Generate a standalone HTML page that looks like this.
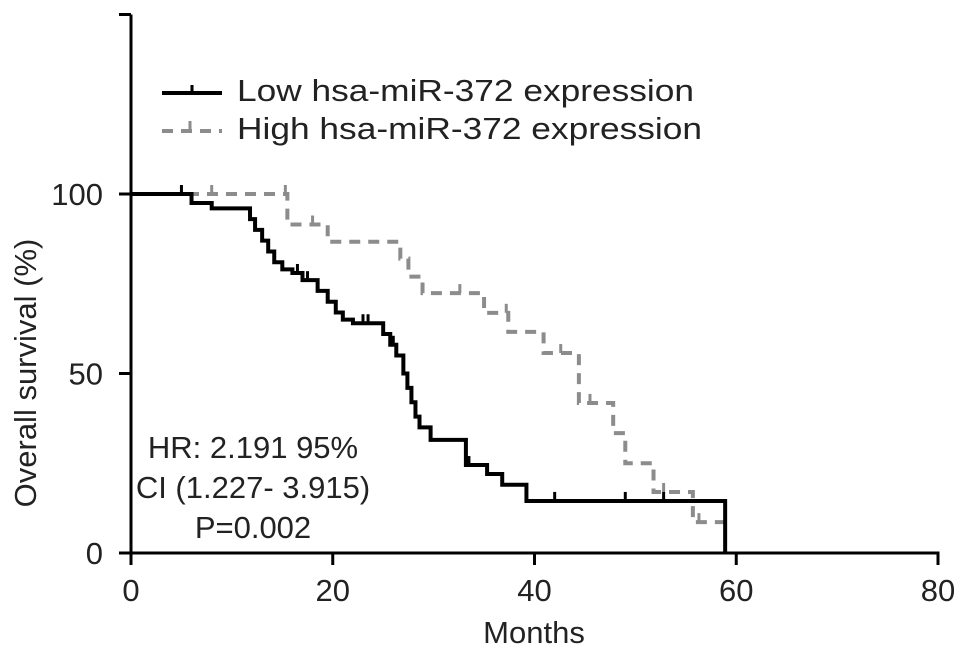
<!DOCTYPE html>
<html><head><meta charset="utf-8"><style>
body{margin:0;background:#fff}
svg{display:block;font-family:"Liberation Sans",Arial,sans-serif}
</style></head><body>
<svg id="chart" width="969" height="657" viewBox="0 0 969 657" xmlns="http://www.w3.org/2000/svg">
<g id="axes"></g>
<g id="series"></g>
<g id="legend" fill="#222">
  <line x1="162" y1="93" x2="222" y2="93" stroke="#000" stroke-width="4"/>
  <line x1="192" y1="85" x2="192" y2="93" stroke="#000" stroke-width="3"/>
  <text x="237" y="101" font-size="31" textLength="457" lengthAdjust="spacingAndGlyphs">Low hsa-miR-372 expression</text>
  <line x1="162" y1="131" x2="222" y2="131" stroke="#8c8c8c" stroke-width="4" stroke-dasharray="11,8"/>
  <line x1="190" y1="121" x2="190" y2="131" stroke="#8c8c8c" stroke-width="3"/>
  <text x="237" y="139" font-size="31" textLength="465" lengthAdjust="spacingAndGlyphs">High hsa-miR-372 expression</text>
</g>
<g font-size="31" text-anchor="middle" fill="#222">
  <text x="253" y="458">HR: 2.191 95%</text>
  <text x="253" y="498">CI (1.227- 3.915)</text>
  <text x="253" y="538">P=0.002</text>
</g>
<text x="534" y="643" font-size="31" text-anchor="middle" fill="#222">Months</text>
<text transform="translate(36,373) rotate(-90)" font-size="31" text-anchor="middle" fill="#222">Overall survival (%)</text>
</svg>
<script>
const xTicks=[0,20,40,60,80];
const yTicks=[0,50,100,150];
const yLabels=["0","50","100",""];
const lowTimes=[0,6,8,11.8,12.3,13,13.6,14.2,15,16,17,18.5,19.5,20.3,21,22,25,25.7,26.3,27,27.4,27.8,28.2,28.6,29.7,33.2,35.3,36.8,39.2,58.9];
const lowSurv=[100,97.5,96,93,90,87,84,81,79,78,76,73,70,67,65,64,61,58,55,50,46,42,38,35,31.5,24.5,22,19,14.5,0];
const lowCensor=[5,12.3,16.5,17.5,18.5,23,23.5,26,33.5,42,49,52.8];
const highTimes=[0,15.5,19.5,26.7,27.5,28.9,35,37.4,40.9,44.4,47.8,49,51.8,55.7,58.9];
const highSurv=[100,91.5,86.7,82,77,72.4,66.9,61.6,55.7,41.8,33.4,25,17,8.6,8.6];
const highCensor=[8,15.3,18,32.6,37.2,42.6,45.5,52.8,56.3];
const NS="http://www.w3.org/2000/svg";
const X=m=>131+m*(938-131)/80;
const Y=p=>553-p*(553-194)/100;
function mk(tag,attrs,parent){const e=document.createElementNS(NS,tag);for(const k in attrs)e.setAttribute(k,attrs[k]);parent.appendChild(e);return e;}
const axes=document.getElementById('axes');
const ser=document.getElementById('series');
let a=mk('line',{x1:X(0),y1:Y(150),x2:X(0),y2:Y(0)+1.5,stroke:'#000','stroke-width':3},axes);


a=mk('line',{x1:X(0)-1.5,y1:Y(0),x2:X(80)+1.5,y2:Y(0),stroke:'#000','stroke-width':3},axes);


xTicks.forEach(t=>{
  let l=mk('line',{x1:X(t),y1:Y(0),x2:X(t),y2:Y(0)+12,stroke:'#000','stroke-width':3},axes);
  
  
  let tx=mk('text',{x:X(t),y:601,'font-size':31,'text-anchor':'middle',fill:'#222'},axes);tx.textContent=t;
  
  
});
yTicks.forEach((t,i)=>{
  let l=mk('line',{x1:X(0)-12,y1:Y(t),x2:X(0),y2:Y(t),stroke:'#000','stroke-width':3},axes);
  
  
  let tx=mk('text',{x:103,y:Y(t)+11,'font-size':31,'text-anchor':'end',fill:'#222'},axes);tx.textContent=yLabels[i];
  
  
});
function stepPath(ts,ss){let d='M'+X(ts[0])+','+Y(ss[0]);for(let i=1;i<ts.length;i++){d+=' H'+X(ts[i])+' V'+Y(ss[i]);}return d;}
function survAt(ts,ss,t){let s=ss[0];for(let i=0;i<ts.length;i++){if(ts[i]<=t)s=ss[i];}return s;}
let p=mk('path',{d:stepPath(highTimes,highSurv),fill:'none',stroke:'#8c8c8c','stroke-width':4,'stroke-dasharray':'11,8'},ser);


highCensor.forEach(t=>{let c=mk('line',{x1:X(t),y1:Y(survAt(highTimes,highSurv,t)),x2:X(t),y2:Y(survAt(highTimes,highSurv,t))-9,stroke:'#8c8c8c','stroke-width':3},ser);
  
  });
p=mk('path',{d:stepPath(lowTimes,lowSurv),fill:'none',stroke:'#000','stroke-width':4},ser);


lowCensor.forEach(t=>{let c=mk('line',{x1:X(t),y1:Y(survAt(lowTimes,lowSurv,t)),x2:X(t),y2:Y(survAt(lowTimes,lowSurv,t))-9,stroke:'#000','stroke-width':3},ser);
  
  });
</script>
</body></html>
